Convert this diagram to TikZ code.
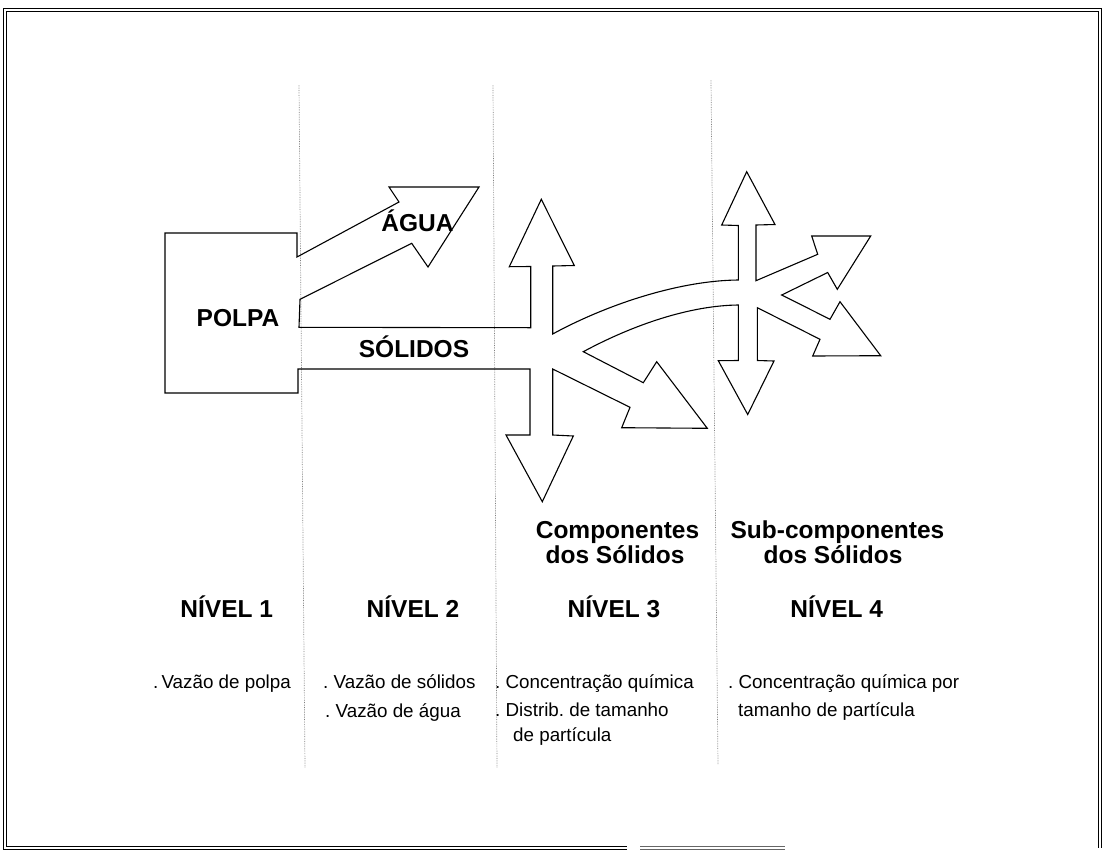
\documentclass[tikz,border=0pt]{standalone}
\usepackage{fontspec}
\setmainfont{Liberation Sans}
\frenchspacing
\begin{document}
\begin{tikzpicture}[x=1pt,y=-1pt,
  outline/.style={line width=1.1pt, line join=miter, black},
  guide/.style={line width=0.7pt, black!50, densely dotted},
  frame/.style={double=white, double distance=2.2pt, line width=0.9pt},
  head/.style={font=\bfseries\fontsize{24.5}{28}\selectfont, inner sep=0pt, anchor=base},
  item/.style={font=\fontsize{18.8}{22}\selectfont, inner sep=0pt, anchor=base west}]
\useasboundingbox (0,0) rectangle (1104,852);

% frame
\draw[frame] (627,848) -- (5,848) -- (5,10) -- (1100,10) -- (1100,848);
\draw[frame, black!60] (640,848) -- (785,848);

% level separators
\draw[guide] (299,85) -- (305,768);
\draw[guide] (493,85) -- (497,768);
\draw[guide] (711,80) -- (718,765);

% flow outline
\draw[outline] (165,233) -- (297,233) -- (297,257)
  -- (399,202) -- (389,187) -- (479,187) -- (428,267) -- (411.7,243.3)
  -- (300,299.3) -- (299,327.3)
  -- (530.7,327.7) -- (530.7,266.5) -- (509.3,266.7) -- (541.3,199.3)
  -- (574.3,265.5) -- (552.7,266) -- (552.7,334)
  .. controls (607.7,304) and (680,280.5) .. (738.3,280)
  -- (738.3,225.5) -- (721.7,225) -- (746.7,171.7) -- (775,224.5)
  -- (756,225) -- (756,280.7) -- (817.7,254.3) -- (811.7,236)
  -- (870.7,236) -- (837.3,289.3) -- (827.7,272.5) -- (781.7,295)
  -- (830,319.3) -- (840,301.7) -- (880.7,355.7) -- (812.7,356)
  -- (820,339.3) -- (757.3,307.7) -- (757.3,360.5) -- (774,361)
  -- (747.7,414.5) -- (718.3,360.7) -- (738.3,360.5) -- (738.3,305)
  .. controls (690,305.5) and (633.3,324.7) .. (583.3,351.7)
  -- (643.3,382.7) -- (656.7,361.7) -- (707.3,428.3) -- (621.7,427.7)
  -- (630,407.3) -- (552.7,369) -- (552.7,435) -- (573.3,436)
  -- (542.3,501.7) -- (506,435) -- (530,435) -- (530,369)
  -- (298,369) -- (298,393) -- (165,393) -- cycle;

% labels in the flow
\node[head] (polpa) at (238,326.7) {POLPA};
\node[head] (agua) at (417.5,231) {ÁGUA};
\node[head] (solidos) at (414,357.3) {SÓLIDOS};

% column titles
\node[head] (comp1) at (617.5,538) {Componentes};
\node[head] (comp2) at (615,563) {dos Sólidos};
\node[head] (sub1) at (837.5,538) {Sub-componentes};
\node[head] (sub2) at (833,563) {dos Sólidos};

\node[head] (n1) at (226.7,617) {NÍVEL 1};
\node[head] (n2) at (413,617) {NÍVEL 2};
\node[head] (n3) at (614,617) {NÍVEL 3};
\node[head] (n4) at (836.7,617) {NÍVEL 4};

% items
\node[item] (i1) at (153,688) {.\,Vazão de polpa};
\node[item] (i2) at (323,688) {. Vazão de sólidos};
\node[item] (i3) at (325,717) {. Vazão de água};
\node[item] (i4) at (495,688) {. Concentração química};
\node[item] (i5) at (495,716) {. Distrib. de tamanho};
\node[item] (i6) at (513,741) {de partícula};
\node[item] (i7) at (728,688) {. Concentração química por};
\node[item] (i8) at (738,716) {tamanho de partícula};
\end{tikzpicture}
\end{document}
